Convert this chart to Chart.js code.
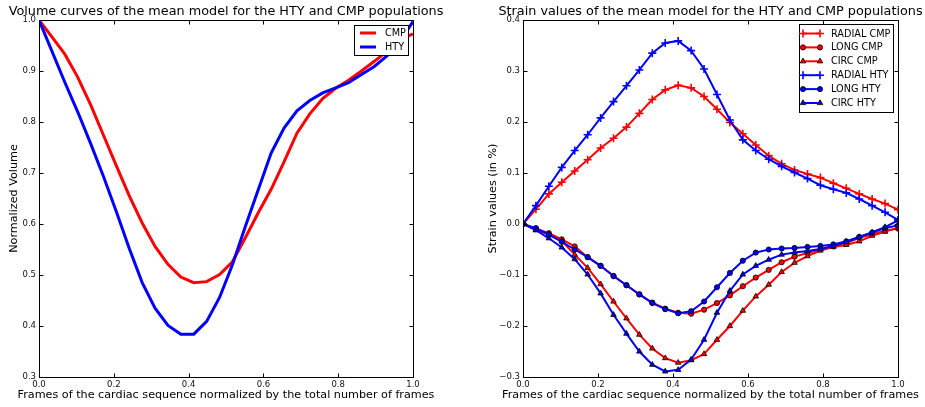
<!DOCTYPE html>
<html>
<head>
<meta charset="utf-8">
<script src="https://cdn.jsdelivr.net/npm/chart.js@4.4.1/dist/chart.umd.min.js"></script>
<style>
  body { margin: 0; background: #fff; width: 925px; height: 407px; overflow: hidden; position: relative; }
  canvas { position: absolute; top: 0; }
</style>
</head>
<body>
<canvas id="vol" width="462" height="407" style="left:0px"></canvas>
<canvas id="strain" width="463" height="407" style="left:462px"></canvas>
<script>
// frame positions (frame index / number of frames)
var frames = [0, 0.0345, 0.069, 0.1034, 0.1379, 0.1724, 0.2069, 0.2414, 0.2759, 0.3103,
  0.3448, 0.3793, 0.4138, 0.4483, 0.4828, 0.5172, 0.5517, 0.5862, 0.6207, 0.6552,
  0.6897, 0.7241, 0.7586, 0.7931, 0.8276, 0.8621, 0.8966, 0.931, 0.9655, 1];

// volume curves
var volCMP = [1.0, 0.967, 0.933, 0.888, 0.834, 0.774, 0.714, 0.655, 0.602, 0.556,
  0.521, 0.496, 0.485, 0.487, 0.501, 0.526, 0.573, 0.622, 0.668, 0.722,
  0.778, 0.816, 0.846, 0.866, 0.882, 0.9, 0.919, 0.939, 0.961, 0.973];
var volHTY = [1.0, 0.939, 0.878, 0.82, 0.758, 0.693, 0.624, 0.552, 0.485, 0.435,
  0.401, 0.384, 0.384, 0.409, 0.456, 0.52, 0.595, 0.667, 0.739, 0.788,
  0.822, 0.842, 0.857, 0.867, 0.877, 0.893, 0.909, 0.93, 0.958, 0.997];

// strain curves
var radialCMP = [0, 0.029, 0.059, 0.082, 0.104, 0.126, 0.149, 0.168, 0.19, 0.217,
  0.244, 0.263, 0.272, 0.267, 0.25, 0.225, 0.199, 0.177, 0.155, 0.134,
  0.118, 0.106, 0.098, 0.091, 0.08, 0.07, 0.059, 0.049, 0.04, 0.028];
var longCMP = [0, -0.009, -0.018, -0.03, -0.044, -0.065, -0.082, -0.102, -0.12, -0.138,
  -0.154, -0.166, -0.174, -0.176, -0.168, -0.155, -0.14, -0.122, -0.105, -0.09,
  -0.075, -0.064, -0.057, -0.05, -0.044, -0.038, -0.027, -0.02, -0.013, -0.009];
var circCMP = [0, -0.012, -0.02, -0.033, -0.06, -0.086, -0.118, -0.152, -0.185, -0.217,
  -0.244, -0.263, -0.272, -0.267, -0.255, -0.227, -0.2, -0.17, -0.142, -0.119,
  -0.094, -0.076, -0.063, -0.052, -0.045, -0.041, -0.034, -0.023, -0.015, -0.008];
var radialHTY = [0, 0.036, 0.074, 0.111, 0.144, 0.175, 0.208, 0.24, 0.271, 0.302,
  0.335, 0.355, 0.359, 0.34, 0.304, 0.254, 0.204, 0.165, 0.144, 0.127,
  0.113, 0.101, 0.089, 0.076, 0.068, 0.061, 0.049, 0.036, 0.023, 0.008];
var longHTY = [0, -0.008, -0.021, -0.035, -0.05, -0.065, -0.082, -0.102, -0.12, -0.138,
  -0.155, -0.167, -0.175, -0.171, -0.152, -0.124, -0.096, -0.072, -0.056, -0.05,
  -0.048, -0.047, -0.045, -0.043, -0.04, -0.034, -0.025, -0.017, -0.008, -0.003];
var circHTY = [0, -0.012, -0.028, -0.046, -0.069, -0.099, -0.136, -0.178, -0.215, -0.25,
  -0.276, -0.289, -0.286, -0.266, -0.227, -0.174, -0.131, -0.099, -0.082, -0.07,
  -0.06, -0.056, -0.053, -0.049, -0.043, -0.035, -0.026, -0.016, -0.006, 0.007];

// ticks
var xTicks = [0, 0.2, 0.4, 0.6, 0.8, 1.0];
var xTickLabels = ["0.0", "0.2", "0.4", "0.6", "0.8", "1.0"];
var volTicks = [0.3, 0.4, 0.5, 0.6, 0.7, 0.8, 0.9, 1.0];
var volTickLabels = ["0.3", "0.4", "0.5", "0.6", "0.7", "0.8", "0.9", "1.0"];
var strainTicks = [-0.3, -0.2, -0.1, 0, 0.1, 0.2, 0.3, 0.4];
var strainTickLabels = ["\u22120.3", "\u22120.2", "\u22120.1", "0.0", "0.1", "0.2", "0.3", "0.4"];

var FONT = '"DejaVu Sans", sans-serif';
var RED = "#ff0000", BLUE = "#0000ff";

function pts(vals) {
  return vals.map(function (v, i) { return { x: frames[i], y: v }; });
}

function marker(ctx, style, r, x, y) {
  ctx.beginPath();
  if (style === "cross") {
    ctx.moveTo(x - r, y); ctx.lineTo(x + r, y);
    ctx.moveTo(x, y - r); ctx.lineTo(x, y + r);
    ctx.stroke();
    return;
  }
  if (style === "circle") {
    ctx.arc(x, y, r, 0, Math.PI * 2);
  } else if (style === "triangle") {
    for (var k = 0; k < 3; k++) {
      var a = k * Math.PI * 2 / 3;
      var px = x + Math.sin(a) * r, py = y - Math.cos(a) * r;
      if (k === 0) ctx.moveTo(px, py); else ctx.lineTo(px, py);
    }
    ctx.closePath();
  }
  ctx.fill();
  ctx.stroke();
}

// frame, inward ticks, titles and legend, matplotlib-ish
var decor = {
  id: "decor",
  afterDraw: function (chart, args, o) {
    var ctx = chart.ctx, ca = chart.chartArea;
    var xs = chart.scales.x, ys = chart.scales.y;
    var L = Math.round(ca.left) + 0.5, R = Math.round(ca.right) + 0.5;
    var T = Math.round(ca.top) + 0.5, B = Math.round(ca.bottom) + 0.5;
    ctx.save();
    ctx.strokeStyle = "#000";
    ctx.lineWidth = 1;
    ctx.strokeRect(L, T, R - L, B - T);
    ctx.beginPath();
    xs.ticks.forEach(function (t) {
      var px = Math.round(xs.getPixelForValue(t.value)) + 0.5;
      ctx.moveTo(px, B); ctx.lineTo(px, B - 4);
      ctx.moveTo(px, T); ctx.lineTo(px, T + 4);
    });
    ys.ticks.forEach(function (t) {
      var py = Math.round(ys.getPixelForValue(t.value)) + 0.5;
      ctx.moveTo(L, py); ctx.lineTo(L + 4, py);
      ctx.moveTo(R, py); ctx.lineTo(R - 4, py);
    });
    ctx.stroke();

    // titles
    var cx = (ca.left + ca.right) / 2;
    ctx.fillStyle = "#000";
    ctx.textAlign = "center";
    ctx.textBaseline = "alphabetic";
    ctx.font = "12.8px " + FONT;
    ctx.fillText(o.title, cx, 14.5);
    ctx.font = "11.2px " + FONT;
    ctx.textBaseline = "middle";
    ctx.fillText(o.xTitle, cx, 395.5);
    ctx.save();
    ctx.translate(o.yTitleX, (ca.top + ca.bottom) / 2);
    ctx.rotate(-Math.PI / 2);
    ctx.fillText(o.yTitle, 0, 0);
    ctx.restore();

    // legend
    var lg = o.legend;
    ctx.fillStyle = "#fff";
    ctx.fillRect(lg.x, lg.y, lg.w, lg.h);
    ctx.strokeStyle = "#000";
    ctx.strokeRect(lg.x + 0.5, lg.y + 0.5, lg.w, lg.h);
    ctx.font = "9.7px " + FONT;
    ctx.textAlign = "left";
    ctx.textBaseline = "middle";
    chart.data.datasets.forEach(function (ds, i) {
      var ry = lg.y + lg.first + i * lg.row;
      var x0 = lg.x + lg.pad, x1 = x0 + lg.len;
      ctx.strokeStyle = ds.borderColor;
      ctx.lineWidth = ds.borderWidth;
      ctx.beginPath();
      ctx.moveTo(x0, ry); ctx.lineTo(x1, ry);
      ctx.stroke();
      if (ds.pointRadius > 0) {
        ctx.fillStyle = ds.pointBackgroundColor;
        ctx.strokeStyle = ds.pointBorderColor;
        ctx.lineWidth = ds.pointBorderWidth;
        marker(ctx, ds.pointStyle, ds.pointRadius, x0, ry);
        marker(ctx, ds.pointStyle, ds.pointRadius, x1, ry);
      }
      ctx.fillStyle = "#000";
      ctx.fillText(ds.label, lg.x + lg.text, ry + 0.5);
    });
    ctx.restore();
  }
};

function axes(ticks, labels, min, max, yWidth) {
  return {
    x: {
      type: "linear", min: 0, max: 1,
      grid: { display: false, drawTicks: false }, border: { display: false },
      afterBuildTicks: function (s) { s.ticks = xTicks.map(function (v) { return { value: v }; }); },
      afterFit: function (s) { s.height = 30; },
      ticks: {
        padding: 3, color: "#111", font: { family: FONT, size: 8.5 }, maxRotation: 0,
        callback: function (v, i) { return xTickLabels[i]; }
      }
    },
    y: {
      type: "linear", min: min, max: max,
      grid: { display: false, drawTicks: false }, border: { display: false },
      afterBuildTicks: function (s) { s.ticks = ticks.map(function (v) { return { value: v }; }); },
      afterFit: function (s) { s.width = yWidth; },
      ticks: {
        padding: 3, color: "#111", font: { family: FONT, size: 8.5 },
        callback: function (v, i) { return labels[i]; }
      }
    }
  };
}

function lineSet(label, vals, color, width, style, order) {
  var ds = {
    label: label, data: pts(vals), borderColor: color, borderWidth: width,
    tension: 0, fill: false, order: order,
    pointRadius: 0, pointHoverRadius: 0
  };
  if (style) {
    ds.pointStyle = style;
    if (style === "cross") {
      ds.pointRadius = 4; ds.pointBorderWidth = 1.6;
      ds.pointBorderColor = color; ds.pointBackgroundColor = color;
    } else {
      ds.pointRadius = style === "triangle" ? 3.2 : 2.6;
      ds.pointBorderWidth = 0.8;
      ds.pointBorderColor = "#000"; ds.pointBackgroundColor = color;
    }
  }
  return ds;
}

var common = {
  responsive: false, animation: false, devicePixelRatio: 1,
  events: []
};

new Chart(document.getElementById("vol"), {
  type: "line",
  data: {
    datasets: [
      lineSet("CMP", volCMP, RED, 3, null, 2),
      lineSet("HTY", volHTY, BLUE, 3, null, 1)
    ]
  },
  options: Object.assign({}, common, {
    layout: { padding: { top: 20, right: 49, left: 0, bottom: 0 } },
    scales: axes(volTicks, volTickLabels, 0.3, 1.0, 39),
    plugins: {
      legend: { display: false }, tooltip: { enabled: false }, title: { display: false },
      decor: {
        title: "Volume curves of the mean model for the HTY and CMP populations",
        xTitle: "Frames of the cardiac sequence normalized by the total number of frames",
        yTitle: "Normalized Volume", yTitleX: 14,
        legend: { x: 354, y: 25, w: 54, h: 30, pad: 6, len: 16, text: 31, first: 8, row: 14 }
      }
    }
  }),
  plugins: [decor]
});

new Chart(document.getElementById("strain"), {
  type: "line",
  data: {
    datasets: [
      lineSet("RADIAL CMP", radialCMP, RED, 2, "cross", 6),
      lineSet("LONG CMP", longCMP, RED, 2, "circle", 5),
      lineSet("CIRC CMP", circCMP, RED, 2, "triangle", 4),
      lineSet("RADIAL HTY", radialHTY, BLUE, 2, "cross", 3),
      lineSet("LONG HTY", longHTY, BLUE, 2, "circle", 2),
      lineSet("CIRC HTY", circHTY, BLUE, 2, "triangle", 1)
    ]
  },
  options: Object.assign({}, common, {
    layout: { padding: { top: 20, right: 27, left: 0, bottom: 0 } },
    scales: axes(strainTicks, strainTickLabels, -0.3, 0.4, 61),
    plugins: {
      legend: { display: false }, tooltip: { enabled: false }, title: { display: false },
      decor: {
        title: "Strain values of the mean model for the HTY and CMP populations",
        xTitle: "Frames of the cardiac sequence normalized by the total number of frames",
        yTitle: "Strain values (in %)", yTitleX: 31,
        legend: { x: 337, y: 24, w: 94, h: 88, pad: 4, len: 17, text: 32, first: 9.5, row: 13.9 }
      }
    }
  }),
  plugins: [decor]
});
</script>
</body>
</html>
